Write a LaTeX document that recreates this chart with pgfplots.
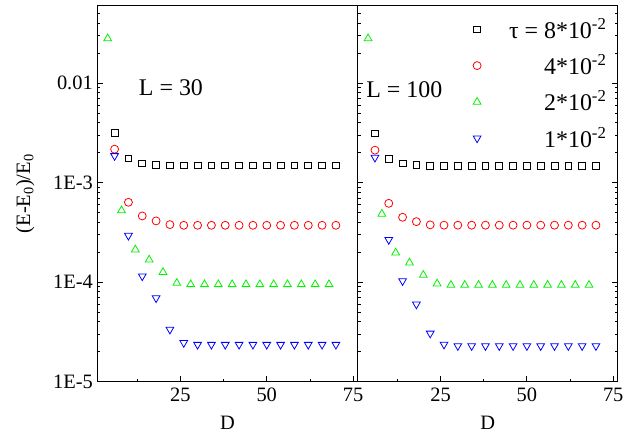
\documentclass[border=0pt]{standalone}
\usepackage{fontspec}
\setmainfont{Liberation Serif}
\usepackage{pgfplots}
\pgfplotsset{compat=1.18}

\definecolor{ored}{RGB}{255,0,0}
\definecolor{ogreen}{RGB}{0,240,0}
\definecolor{oblue}{RGB}{0,0,255}

\pgfplotstableread{
D y
6 3.15e-3
10 1.75e-3
14 1.56e-3
18 1.52e-3
22 1.49e-3
26 1.49e-3
30 1.49e-3
34 1.49e-3
38 1.49e-3
42 1.49e-3
46 1.49e-3
50 1.49e-3
54 1.49e-3
58 1.49e-3
62 1.49e-3
66 1.49e-3
70 1.49e-3
}\leftblack
\pgfplotstableread{
D y
6 2.17e-3
10 6.35e-4
14 4.63e-4
18 4.13e-4
22 3.79e-4
26 3.73e-4
30 3.73e-4
34 3.73e-4
38 3.73e-4
42 3.73e-4
46 3.73e-4
50 3.73e-4
54 3.73e-4
58 3.73e-4
62 3.73e-4
66 3.73e-4
70 3.73e-4
}\leftred
\pgfplotstableread{
D y
4 2.81e-2
8 5.25e-4
12 2.12e-4
16 1.68e-4
20 1.26e-4
24 9.8e-5
28 9.5e-5
32 9.5e-5
36 9.5e-5
40 9.5e-5
44 9.5e-5
48 9.5e-5
52 9.5e-5
56 9.5e-5
60 9.5e-5
64 9.5e-5
68 9.5e-5
}\leftgreen
\pgfplotstableread{
D y
6 1.86e-3
10 2.94e-4
14 1.15e-4
18 6.93e-5
22 3.35e-5
26 2.46e-5
30 2.36e-5
34 2.36e-5
38 2.36e-5
42 2.36e-5
46 2.36e-5
50 2.36e-5
54 2.36e-5
58 2.36e-5
62 2.36e-5
66 2.36e-5
70 2.36e-5
}\leftblue

\pgfplotstableread{
D y
6 3.13e-3
10 1.73e-3
14 1.56e-3
18 1.52e-3
22 1.47e-3
26 1.47e-3
30 1.47e-3
34 1.47e-3
38 1.47e-3
42 1.47e-3
46 1.47e-3
50 1.47e-3
54 1.47e-3
58 1.47e-3
62 1.47e-3
66 1.47e-3
70 1.47e-3
}\rightblack
\pgfplotstableread{
D y
6 2.12e-3
10 6.2e-4
14 4.49e-4
18 4.06e-4
22 3.77e-4
26 3.74e-4
30 3.74e-4
34 3.74e-4
38 3.74e-4
42 3.74e-4
46 3.74e-4
50 3.74e-4
54 3.74e-4
58 3.74e-4
62 3.74e-4
66 3.74e-4
70 3.74e-4
}\rightred
\pgfplotstableread{
D y
4 2.81e-2
8 4.85e-4
12 1.98e-4
16 1.57e-4
20 1.18e-4
24 9.66e-5
28 9.36e-5
32 9.36e-5
36 9.36e-5
40 9.36e-5
44 9.36e-5
48 9.36e-5
52 9.36e-5
56 9.36e-5
60 9.36e-5
64 9.36e-5
68 9.36e-5
}\rightgreen
\pgfplotstableread{
D y
6 1.79e-3
10 2.67e-4
14 1.03e-4
18 6.0e-5
22 3.06e-5
26 2.37e-5
30 2.29e-5
34 2.29e-5
38 2.29e-5
42 2.29e-5
46 2.29e-5
50 2.29e-5
54 2.29e-5
58 2.29e-5
62 2.29e-5
66 2.29e-5
70 2.29e-5
}\rightblue

\pgfplotsset{
  mypanel/.style={
    scale only axis,
    height=376bp,
    xmin=1, xmax=76.3,
    ymin=1e-5, ymax=0.06,
    xtick={25,50,75},
    xticklabels={25,50,75},
    minor xtick={12.5,37.5,62.5},
    ytick={1e-5,1e-4,1e-3,1e-2},
    minor ytick={2e-5,3e-5,4e-5,5e-5,6e-5,7e-5,8e-5,9e-5,
                 2e-4,3e-4,4e-4,5e-4,6e-4,7e-4,8e-4,9e-4,
                 2e-3,3e-3,4e-3,5e-3,6e-3,7e-3,8e-3,9e-3,
                 2e-2,3e-2,4e-2,5e-2},
    tick align=inside,
    xtick pos=bottom,
    major tick length=5.5bp,
    minor tick length=3bp,
    tick style={black, line width=0.9pt},
    axis line style={line width=1.1pt},
    ticklabel style={font=\fontsize{20.5}{24}\selectfont},
    xticklabel style={yshift=-3bp},
    label style={font=\fontsize{20.5}{24}\selectfont},
    xlabel={D},
    xlabel style={at={(axis description cs:0.5,0)}, anchor=base, yshift=-48bp},
  },
  msq/.style={only marks, mark=square, mark size=3.4pt, black, line width=0.8pt},
  mci/.style={only marks, mark=o, mark size=4pt, ored, line width=0.8pt},
  mtu/.style={only marks, mark=triangle, mark size=4.5pt, ogreen, line width=0.8pt},
  mtd/.style={only marks, mark=triangle, mark size=4.5pt, oblue, line width=0.8pt,
             mark options={rotate=180}},
}

\begin{document}
\begin{tikzpicture}
\begin{axis}[ymode=log, mypanel,
    name=left,
    at={(0,0)}, anchor=south west,
    width=260.4bp,
    ytick pos=left,
    yticklabels={1E-5,1E-4,1E-3,0.01},
    yticklabel style={xshift=-1bp},
]
\addplot[msq] table[x=D,y=y] {\leftblack};
\addplot[mci] table[x=D,y=y] {\leftred};
\addplot[mtu] table[x=D,y=y] {\leftgreen};
\addplot[mtd] table[x=D,y=y] {\leftblue};
\node[font=\fontsize{24}{28}\selectfont] at (axis cs:22.3,9.0e-3) {L = 30};
\end{axis}
% y label, outside the clipped axis area
\node[rotate=90, anchor=center, font=\fontsize{20.5}{24}\selectfont]
    at ([xshift=-72bp]left.west) {(E-E\textsubscript{0})/E\textsubscript{0}};

\begin{axis}[ymode=log, mypanel,
    name=right,
    at={(left.south east)}, anchor=south west,
    width=260bp,
    ytick pos=both,
    yticklabels={},
    legend cell align=right,
    legend style={draw=none, fill=none, inner sep=0pt,
        at={(rel axis cs:0.965,0.975)}, anchor=north east,
        font=\fontsize{24}{28}\selectfont,
        row sep=8.3bp,
        nodes={inner sep=2bp, text height=21bp, text depth=3bp}},
    legend image code/.code={\path[draw=none, fill=none] (0bp,0bp) -- (30bp,0bp);
        \draw[#1] plot coordinates {(0bp,0bp)};},
]
\addplot[msq] table[x=D,y=y] {\rightblack};
\addlegendentry{τ = 8*10\textsuperscript{-2}}
\addplot[mci] table[x=D,y=y] {\rightred};
\addlegendentry{4*10\textsuperscript{-2}}
\addplot[mtu] table[x=D,y=y] {\rightgreen};
\addlegendentry{2*10\textsuperscript{-2}}
\addplot[mtd] table[x=D,y=y] {\rightblue};
\addlegendentry{1*10\textsuperscript{-2}}
\node[font=\fontsize{24}{28}\selectfont] at (axis cs:14.5,8.67e-3) {L = 100};
\end{axis}
\pgfresetboundingbox
\path (-97.3bp,-51.3bp) rectangle (528.7bp,381.7bp);
\end{tikzpicture}
\end{document}
